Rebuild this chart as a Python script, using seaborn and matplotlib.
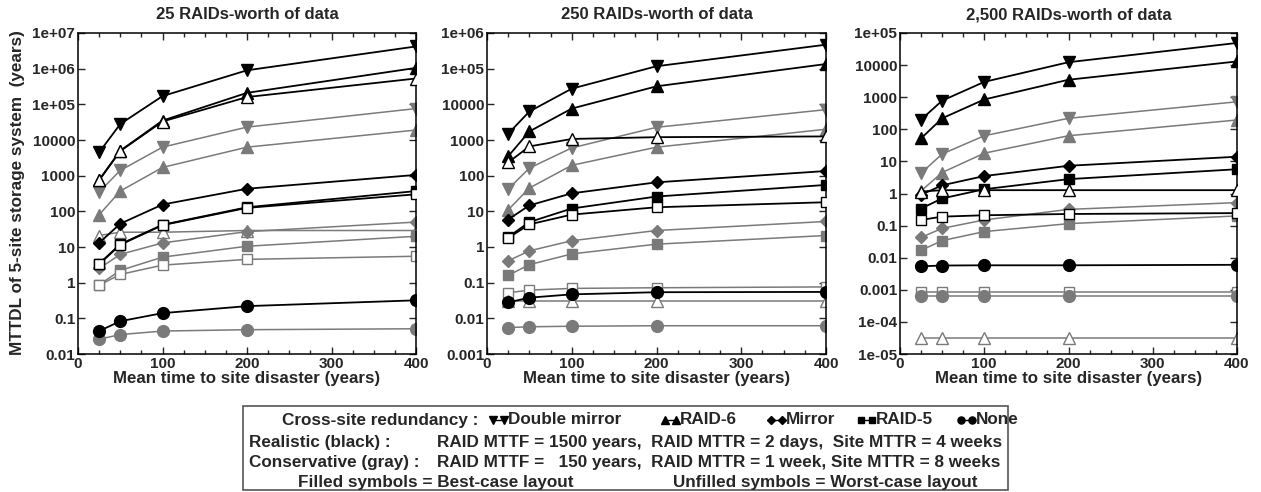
import numpy as np
import pandas as pd
import seaborn as sns
import matplotlib.pyplot as plt
from matplotlib.lines import Line2D
from matplotlib.patches import Rectangle
from matplotlib.ticker import FixedLocator, FixedFormatter, MultipleLocator, NullLocator

# mean time to site disaster (years)
site_mttf = [25, 50, 100, 200, 400]

titles = ["25 RAIDs-worth of data", "250 RAIDs-worth of data", "2,500 RAIDs-worth of data"]

# --- 25 RAIDs ---
p1_dm_real_best = [4500, 28000, 170000, 900000, 4.2e6]
p1_r6_real_best = [760, 5000, 35000, 210000, 1.05e6]
p1_r6_real_worst = [740, 4900, 33000, 160000, 5.3e5]
p1_dm_cons_best = [350, 1400, 6300, 23000, 76000]
p1_r6_cons_best = [80, 370, 1700, 6300, 19000]
p1_mir_real_best = [13, 45, 155, 430, 1050]
p1_r5_real_best = [3.4, 12, 42, 130, 370]
p1_r5_real_worst = [3.3, 11.5, 41, 125, 300]
p1_r6_cons_worst = [21, 26, 26, 29, 29]
p1_mir_cons_best = [2.5, 6.2, 13, 27, 50]
p1_r5_cons_best = [0.87, 2.2, 5.2, 10.5, 20]
p1_r5_cons_worst = [0.85, 1.7, 3.1, 4.5, 5.5]
p1_none_real = [0.044, 0.083, 0.14, 0.22, 0.32]
p1_none_cons = [0.026, 0.035, 0.044, 0.048, 0.051]

# --- 250 RAIDs ---
p2_dm_real_best = [1500, 6300, 27500, 117000, 4.7e5]
p2_r6_real_best = [350, 1740, 7600, 32000, 1.35e5]
p2_r6_real_worst = [235, 660, 1070, 1200, 1260]
p2_dm_cons_best = [42, 163, 600, 2270, 7100]
p2_r6_cons_best = [11, 45, 195, 630, 2000]
p2_mir_real_best = [5.9, 14.7, 32, 65, 135]
p2_r5_real_best = [1.9, 5, 12, 26, 55]
p2_r5_real_worst = [1.8, 4.3, 8.1, 13, 18]
p2_mir_cons_best = [0.41, 0.78, 1.5, 2.9, 5.2]
p2_r5_cons_best = [0.16, 0.32, 0.64, 1.2, 2.1]
p2_r5_cons_worst = [0.052, 0.062, 0.069, 0.072, 0.076]
p2_none_real = [0.028, 0.038, 0.047, 0.054, 0.055]
p2_r6_cons_worst = [0.031, 0.031, 0.031, 0.031, 0.031]
p2_none_cons = [0.0055, 0.0058, 0.006, 0.0062, 0.0062]

# --- 2,500 RAIDs ---
p3_dm_real_best = [200, 780, 3000, 12300, 49000]
p3_r6_real_best = [52, 220, 850, 3500, 13000]
p3_dm_cons_best = [4.3, 17, 63, 220, 720]
p3_r6_cons_best = [1.2, 4.5, 18, 63, 195]
p3_mir_real_best = [0.91, 1.8, 3.5, 7.3, 14]
p3_r5_real_best = [0.34, 0.7, 1.36, 2.8, 5.7]
p3_r6_real_worst = [1.15, 1.27, 1.27, 1.27, 1.27]
p3_mir_cons_best = [0.043, 0.082, 0.15, 0.32, 0.52]
p3_r5_cons_best = [0.017, 0.034, 0.065, 0.115, 0.2]
p3_r5_real_worst = [0.15, 0.19, 0.21, 0.23, 0.245]
p3_none_real = [0.0054, 0.0057, 0.0058, 0.0058, 0.006]
p3_r5_cons_worst = [0.00085, 0.00085, 0.00085, 0.00085, 0.00085]
p3_none_cons = [0.00063, 0.00063, 0.00063, 0.00063, 0.00063]
p3_r6_cons_worst = [3.2e-5, 3.2e-5, 3.2e-5, 3.2e-5, 3.2e-5]

BLACK = "black"
GRAY = "#7a7a7a"
MARK = {"dm": "v", "r6": "^", "mir": "D", "r5": "s", "none": "o"}
MSIZE = {"dm": 9, "r6": 9, "mir": 6.5, "r5": 7.5, "none": 8.5}

panels = [
    [("dm", "real", "best", p1_dm_real_best), ("r6", "real", "best", p1_r6_real_best),
     ("r6", "real", "worst", p1_r6_real_worst), ("dm", "cons", "best", p1_dm_cons_best),
     ("r6", "cons", "best", p1_r6_cons_best), ("mir", "real", "best", p1_mir_real_best),
     ("r5", "real", "best", p1_r5_real_best), ("r5", "real", "worst", p1_r5_real_worst),
     ("r6", "cons", "worst", p1_r6_cons_worst), ("mir", "cons", "best", p1_mir_cons_best),
     ("r5", "cons", "best", p1_r5_cons_best), ("r5", "cons", "worst", p1_r5_cons_worst),
     ("none", "real", "best", p1_none_real), ("none", "cons", "best", p1_none_cons)],
    [("dm", "real", "best", p2_dm_real_best), ("r6", "real", "best", p2_r6_real_best),
     ("r6", "real", "worst", p2_r6_real_worst), ("dm", "cons", "best", p2_dm_cons_best),
     ("r6", "cons", "best", p2_r6_cons_best), ("mir", "real", "best", p2_mir_real_best),
     ("r5", "real", "best", p2_r5_real_best), ("r5", "real", "worst", p2_r5_real_worst),
     ("mir", "cons", "best", p2_mir_cons_best), ("r5", "cons", "best", p2_r5_cons_best),
     ("r5", "cons", "worst", p2_r5_cons_worst), ("none", "real", "best", p2_none_real),
     ("r6", "cons", "worst", p2_r6_cons_worst), ("none", "cons", "best", p2_none_cons)],
    [("dm", "real", "best", p3_dm_real_best), ("r6", "real", "best", p3_r6_real_best),
     ("dm", "cons", "best", p3_dm_cons_best), ("r6", "cons", "best", p3_r6_cons_best),
     ("mir", "real", "best", p3_mir_real_best), ("r5", "real", "best", p3_r5_real_best),
     ("r6", "real", "worst", p3_r6_real_worst), ("mir", "cons", "best", p3_mir_cons_best),
     ("r5", "cons", "best", p3_r5_cons_best), ("r5", "real", "worst", p3_r5_real_worst),
     ("none", "real", "best", p3_none_real), ("r5", "cons", "worst", p3_r5_cons_worst),
     ("none", "cons", "best", p3_none_cons), ("r6", "cons", "worst", p3_r6_cons_worst)],
]
ylims = [(0.01, 1e7), (1e-3, 1e6), (1e-5, 1e5)]

sns.set_style("ticks")
plt.rcParams["font.family"] = ["Liberation Sans", "DejaVu Sans"]
plt.rcParams["font.weight"] = "bold"

W, H = 1261, 492
fig = plt.figure(figsize=(W / 100, H / 100), dpi=100)


def fx(x):
    return x / W


def fy(y):
    return 1 - y / H


def fmt(v):
    e = int(round(np.log10(v)))
    if -3 <= e <= 4:
        return f"{v:g}"
    return f"{v:.0e}"


lefts = [78, 487, 900]
widths = [338, 339, 337]
for i, series in enumerate(panels):
    ax = fig.add_axes([fx(lefts[i]), fy(354), fx(widths[i]), (354 - 33) / H])
    rows = []
    for k, (red, mode, lay, vals) in enumerate(series):
        for x, v in zip(site_mttf, vals):
            rows.append({"sid": k, "x": x, "y": v})
    df = pd.DataFrame(rows)
    # gray first, black on top
    order = sorted(range(len(series)), key=lambda k: 0 if series[k][1] == "cons" else 1)
    for k in order:
        red, mode, lay, vals = series[k]
        col = BLACK if mode == "real" else GRAY
        face = col if lay == "best" else "white"
        sns.lineplot(data=df[df.sid == k], x="x", y="y", ax=ax, color=col,
                     lw=1.3 if mode == "real" else 1.1, marker=MARK[red],
                     markersize=MSIZE[red], markerfacecolor=face,
                     markeredgecolor=col, markeredgewidth=1.0,
                     zorder=3 if mode == "real" else 2, errorbar=None)
    ax.set_yscale("log")
    ax.set_xlim(0, 400)
    ax.set_ylim(*ylims[i])
    lo, hi = ylims[i]
    yt = [10.0 ** e for e in range(int(round(np.log10(lo))), int(round(np.log10(hi))) + 1)]
    ax.yaxis.set_major_locator(FixedLocator(yt))
    ax.yaxis.set_major_formatter(FixedFormatter([fmt(v) for v in yt]))
    ax.yaxis.set_minor_locator(NullLocator())
    ax.xaxis.set_major_locator(MultipleLocator(100))
    ax.xaxis.set_minor_locator(MultipleLocator(25))
    ax.tick_params(which="both", direction="in", top=True, right=True,
                   labelsize=11, width=1, pad=2)
    ax.tick_params(which="major", length=5)
    ax.tick_params(which="minor", length=3)
    for t in ax.get_xticklabels() + ax.get_yticklabels():
        t.set_fontweight("bold")
    for s in ax.spines.values():
        s.set_linewidth(1.1)
        s.set_color("black")
    ax.set_xlabel("Mean time to site disaster (years)", fontsize=12.2,
                  fontweight="bold", labelpad=0)
    ax.set_ylabel("")
    ax.set_title(titles[i], fontsize=12, fontweight="bold", pad=10)

fig.text(fx(18), fy(193), "MTTDL of 5-site storage system  (years)", rotation=90,
         ha="center", va="center", fontsize=12.3, fontweight="bold")

# legend box
fig.add_artist(Rectangle((fx(243), fy(490)), fx(1008 - 243), (490 - 406) / H,
                         transform=fig.transFigure, fill=False, ec="#555555", lw=1.2))
fs = 12.3
fig.text(fx(282), fy(420), "Cross-site redundancy :", fontsize=fs, fontweight="bold",
         va="center", ha="left")
legend_items = [("dm", "Double mirror", 490), ("r6", "RAID-6", 662), ("mir", "Mirror", 768),
                ("r5", "RAID-5", 858), ("none", "None", 958)]
for red, lab, x0 in legend_items:
    fig.add_artist(Line2D([fx(x0 + 3), fx(x0 + 14)], [fy(420), fy(420)],
                          transform=fig.transFigure, color=BLACK, lw=1,
                          marker=MARK[red], markersize=MSIZE[red] * 0.6))
    fig.text(fx(x0 + 18), fy(420), lab, fontsize=fs, fontweight="bold", va="center",
             ha="left")
fig.text(fx(249), fy(442), "Realistic (black) :", fontsize=fs, fontweight="bold",
         va="center", ha="left")
fig.text(fx(437), fy(442), "RAID MTTF = 1500 years,  RAID MTTR = 2 days,  Site MTTR = 4 weeks",
         fontsize=fs, fontweight="bold", va="center", ha="left")
fig.text(fx(249), fy(462), "Conservative (gray) :", fontsize=fs, fontweight="bold",
         va="center", ha="left")
fig.text(fx(437), fy(462), "RAID MTTF =   150 years,  RAID MTTR = 1 week, Site MTTR = 8 weeks",
         fontsize=fs, fontweight="bold", va="center", ha="left")
fig.text(fx(298), fy(483), "Filled symbols = Best-case layout", fontsize=fs,
         fontweight="bold", va="center", ha="left")
fig.text(fx(673), fy(483), "Unfilled symbols = Worst-case layout", fontsize=fs,
         fontweight="bold", va="center", ha="left")

fig.savefig("out.png", dpi=100)
